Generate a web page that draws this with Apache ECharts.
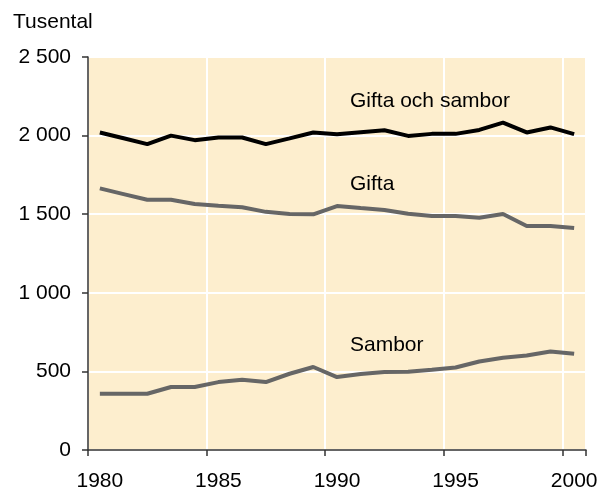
<!DOCTYPE html>
<html>
<head>
<meta charset="utf-8">
<script src="https://cdn.jsdelivr.net/npm/echarts@6/dist/echarts.min.js"></script>
<style>html,body{margin:0;padding:0;background:#fff}#c{width:600px;height:489px}</style>
</head>
<body>
<div id="c"></div>
<script>
var years = ['1980','1981','1982','1983','1984','1985','1986','1987','1988','1989','1990','1991','1992','1993','1994','1995','1996','1997','1998','1999','2000'];
var giftaOchSambor = [2020,1983,1946,2000,1971,1988,1988,1946,1982,2020,2009,2022,2034,1998,2011,2011,2036,2083,2020,2052,2009];
var gifta = [1664,1628,1592,1592,1565,1554,1544,1515,1501,1499,1552,1539,1527,1503,1488,1488,1478,1501,1425,1425,1412];
var sambor = [358,358,358,401,401,432,447,432,485,528,464,483,496,498,510,525,563,587,601,627,612];
var yTickValues = [0,500,1000,1500,2000,2500];
var yTickLabels = ['0','500','1 000','1 500','2 000','2 500'];
var unitLabel = 'Tusental';
var seriesLabels = ['Gifta och sambor','Gifta','Sambor'];

var FONT = '"Liberation Sans", Arial, sans-serif';
var FS = 21;
var chart = echarts.init(document.getElementById('c'), null, {renderer:'canvas'});
chart.setOption({
  animation:false,
  grid:{left:88,right:14,top:57,bottom:39,containLabel:false,outerBoundsMode:'none',show:true,backgroundColor:'#FDEECE',borderColor:'#808080',borderWidth:1},
  xAxis:{
    type:'category', data:years, boundaryGap:true,
    axisLine:{show:true,lineStyle:{color:'#333',width:1.5}},
    axisTick:{show:true,interval:4,length:6,inside:false,lineStyle:{color:'#333',width:1.5}},
    axisLabel:{interval:4,margin:21,color:'#000',fontSize:FS,fontFamily:FONT,hideOverlap:false},
    splitLine:{show:true,interval:4,lineStyle:{color:'#fff',width:2}}
  },
  yAxis:{
    type:'value', min:0, max:2500, interval:500,
    axisLine:{show:true,lineStyle:{color:'#333',width:1.5}},
    axisTick:{show:true,length:6,inside:false,lineStyle:{color:'#333',width:1.5}},
    axisLabel:{margin:17,color:'#000',fontSize:FS,fontFamily:FONT,
      formatter:function(v){var i=yTickValues.indexOf(v);return i>=0?yTickLabels[i]:'';}},
    splitLine:{show:true,lineStyle:{color:'#fff',width:2}}
  },
  series:[
    {name:seriesLabels[0],type:'line',data:giftaOchSambor,symbol:'none',lineStyle:{color:'#000',width:4},z:3},
    {name:seriesLabels[1],type:'line',data:gifta,symbol:'none',lineStyle:{color:'#666',width:4},z:2},
    {name:seriesLabels[2],type:'line',data:sambor,symbol:'none',lineStyle:{color:'#666',width:4},z:2}
  ],
  graphic:[
    {type:'text',left:13,top:12,style:{text:unitLabel,fontSize:FS,fontFamily:FONT,fill:'#000'}},
    {type:'text',left:350,top:91,style:{text:seriesLabels[0],fontSize:FS,fontFamily:FONT,fill:'#000'},z:10},
    {type:'text',left:350,top:174,style:{text:seriesLabels[1],fontSize:FS,fontFamily:FONT,fill:'#000'},z:10},
    {type:'text',left:350,top:335,style:{text:seriesLabels[2],fontSize:FS,fontFamily:FONT,fill:'#000'},z:10}
  ]
});
</script>
</body>
</html>
